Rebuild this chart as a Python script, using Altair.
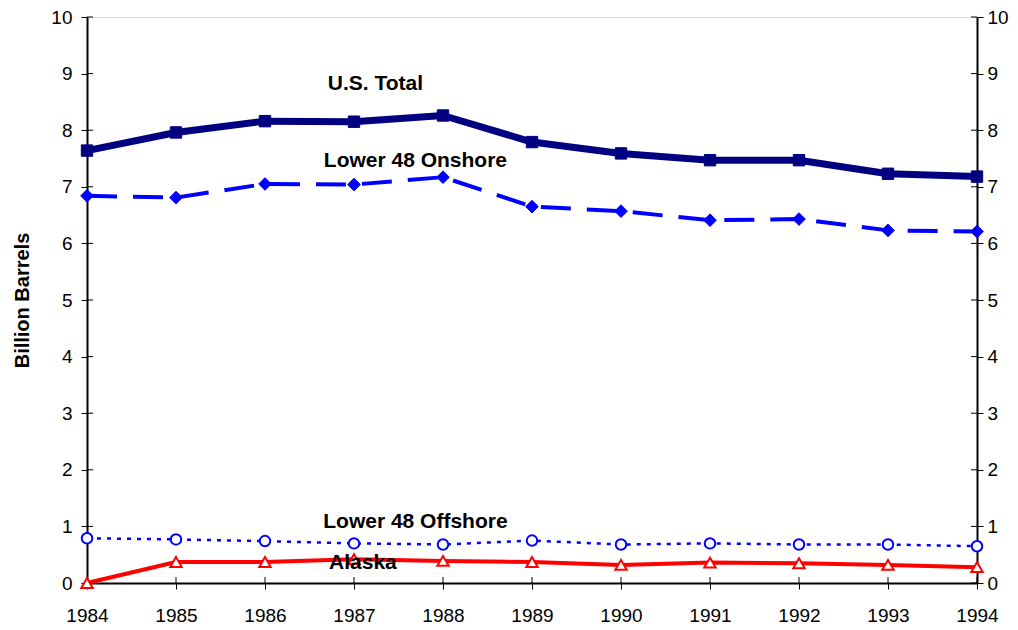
import altair as alt
import pandas as pd

years = [1984, 1985, 1986, 1987, 1988, 1989, 1990, 1991, 1992, 1993, 1994]
us_total = [7.64, 7.96, 8.16, 8.15, 8.26, 7.79, 7.59, 7.47, 7.47, 7.23, 7.18]
onshore = [6.84, 6.81, 7.05, 7.04, 7.17, 6.65, 6.57, 6.41, 6.43, 6.23, 6.21]
offshore = [0.79, 0.77, 0.74, 0.70, 0.68, 0.75, 0.68, 0.70, 0.68, 0.68, 0.65]
alaska = [0.00, 0.37, 0.37, 0.42, 0.39, 0.37, 0.32, 0.36, 0.35, 0.32, 0.28]

label_text = ["U.S. Total", "Lower 48 Onshore", "Lower 48 Offshore", "Alaska"]
label_year = [1987.24, 1987.69, 1987.69, 1987.1]
label_value = [8.81, 7.45, 1.07, 0.36]

y_ticks = list(range(0, 11))

W, H = 890, 566
FONT = "Liberation Sans"

xscale = alt.Scale(domain=[1984, 1994], nice=False, zero=False)
yscale = alt.Scale(domain=[0, 10], nice=False)

xaxis = alt.Axis(values=years, format="d", title=None, grid=False,
                 tickSize=6, tickColor="black", tickWidth=1,
                 domainColor="black", domainWidth=2,
                 labelFont=FONT, labelFontSize=19, labelColor="black",
                 labelPadding=17, labelFlush=False, labelOverlap=False)
X = alt.X("year:Q", scale=xscale, axis=xaxis)


def series_df(vals):
    return pd.DataFrame({"year": years, "value": vals})


def line_layer(vals, color, width, dash=None):
    kw = dict(color=color, strokeWidth=width, strokeCap="butt", strokeJoin="round")
    if dash:
        kw["strokeDash"] = dash
    return alt.Chart(series_df(vals)).mark_line(**kw).encode(
        x=X,
        y=alt.Y("value:Q", scale=yscale, axis=None),
    )


def point_layer(vals, shape, size, fill, stroke, sw):
    return alt.Chart(series_df(vals)).mark_point(
        shape=shape, size=size, filled=True, fill=fill, stroke=stroke,
        strokeWidth=sw, opacity=1
    ).encode(
        x=X,
        y=alt.Y("value:Q", scale=yscale, axis=None),
    )


axis_df = pd.DataFrame({"year": years, "value": [0] * len(years)})
base_axes = alt.Chart(axis_df).mark_point(opacity=0).encode(
    x=X,
    y=alt.Y("value:Q", scale=yscale,
            axis=alt.Axis(values=y_ticks, title="Billion Barrels", grid=False,
                          orient="left",
                          tickSize=6, tickColor="black", tickWidth=1,
                          domainColor="black", domainWidth=2,
                          labelFont=FONT, labelFontSize=19, labelColor="black",
                          labelPadding=9,
                          titleFont=FONT, titleFontSize=20, titleFontWeight="bold",
                          titleColor="black", titlePadding=18)),
)

right_axes = alt.Chart(axis_df).mark_point(opacity=0).encode(
    x=X,
    y=alt.Y("value:Q", scale=yscale,
            axis=alt.Axis(values=y_ticks, title=None, grid=False, orient="right",
                          tickSize=6, tickColor="black", tickWidth=1,
                          domainColor="black", domainWidth=2,
                          labelFont=FONT, labelFontSize=19, labelColor="black",
                          labelPadding=4)),
)

# inward halves of the crossing tick marks
ytick_df = pd.DataFrame({"value": y_ticks})
left_in = alt.Chart(ytick_df).mark_rule(color="black", strokeWidth=1).encode(
    y=alt.Y("value:Q", scale=yscale, axis=None),
    x=alt.value(0), x2=alt.value(6))
right_in = alt.Chart(ytick_df).mark_rule(color="black", strokeWidth=1).encode(
    y=alt.Y("value:Q", scale=yscale, axis=None),
    x=alt.value(W - 6), x2=alt.value(W))
xtick_df = pd.DataFrame({"year": years})
bottom_in = alt.Chart(xtick_df).mark_rule(color="black", strokeWidth=1).encode(
    x=X,
    y=alt.value(H - 6), y2=alt.value(H))

NAVY = "#000080"
BLUE = "#0000FF"
RED = "#FF0000"

layers = [
    base_axes, right_axes, left_in, right_in, bottom_in,
    line_layer(offshore, BLUE, 2.5, [4, 6]),
    line_layer(alaska, RED, 4),
    line_layer(onshore, BLUE, 4, [30, 16]),
    line_layer(us_total, NAVY, 7),
    point_layer(offshore, "circle", 110, "white", BLUE, 2),
    point_layer(alaska, "triangle-up", 130, "white", RED, 2),
    point_layer(onshore, "diamond", 160, BLUE, BLUE, 1),
    point_layer(us_total, "square", 130, NAVY, NAVY, 1),
]

labels_df = pd.DataFrame({"text": label_text, "year": label_year, "value": label_value})
labels = alt.Chart(labels_df).mark_text(
    font=FONT, fontSize=21, fontWeight="bold", color="black",
    align="center", baseline="middle"
).encode(
    x=X,
    y=alt.Y("value:Q", scale=yscale, axis=None),
    text="text:N",
)
layers.append(labels)

chart = alt.layer(*layers).resolve_scale(y="shared").resolve_axis(y="independent").properties(
    width=W, height=H,
    autosize=alt.AutoSizeParams(type="none"),
    padding={"left": 79, "top": 9, "right": 33, "bottom": 45},
).configure_view(stroke="black", strokeWidth=1).configure(background="white")

chart.save("out.html", embed_options={"renderer": "svg", "actions": False})
